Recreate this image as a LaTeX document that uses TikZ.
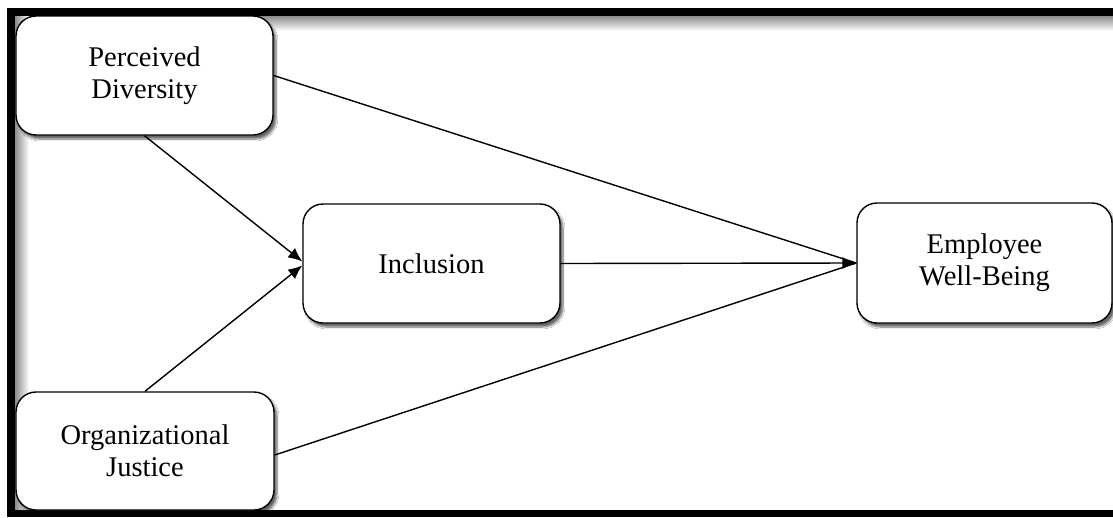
\documentclass[tikz,border=0pt]{standalone}
\usepackage{fontspec}
\setmainfont{Liberation Serif}
\usetikzlibrary{arrows.meta,shadows.blur}
\tikzset{
  box/.style={draw=black, line width=1.4pt, fill=white, rounded corners=20pt,
    align=center, font=\fontsize{28.5}{32}\selectfont, inner sep=0pt,
    blur shadow={shadow xshift=3pt, shadow yshift=-4pt, shadow blur steps=8, shadow opacity=60}},
  link/.style={line width=1.4pt, -{Latex[length=14pt,width=12pt]}},
  plain/.style={line width=1.4pt}
}
\begin{document}
\begin{tikzpicture}[x=1pt,y=-1pt]
\useasboundingbox (0,0) rectangle (1113,517);
\fill[white] (0,0) rectangle (1113,517);
% frame shading
\shade[top color=black!45, bottom color=white] (15,16) rectangle (1113,31);
\shade[left color=black!45, right color=white] (15,16) rectangle (29,510);
% frame bars
\fill[black] (7,8) rectangle (1113,16);
\fill[black] (7,8) rectangle (15,517);
\fill[black] (7,510) rectangle (1113,517);
% nodes
\node[box, minimum width=257pt, minimum height=119pt] (PD) at (144.5,75.5) {Perceived\\Diversity};
\node[box, minimum width=258pt, minimum height=118pt] (OJ) at (145,451) {Organizational\\Justice};
\node[box, minimum width=257pt, minimum height=119pt] (INC) at (431.5,263.5) {Inclusion};
\node[box, minimum width=255pt, minimum height=120pt] (EWB) at (984.5,263) {Employee\\Well-Being};
% connectors
\draw[link] (PD.south) -- ([yshift=2pt]INC.west);
\draw[link] (OJ.north) -- ([yshift=-2pt]INC.west);
\draw[plain] (PD.east) -- (EWB.west);
\draw[plain] ([yshift=-4pt]OJ.east) -- (EWB.west);
\draw[link] (INC.east) -- (EWB.west);
\end{tikzpicture}
\end{document}
